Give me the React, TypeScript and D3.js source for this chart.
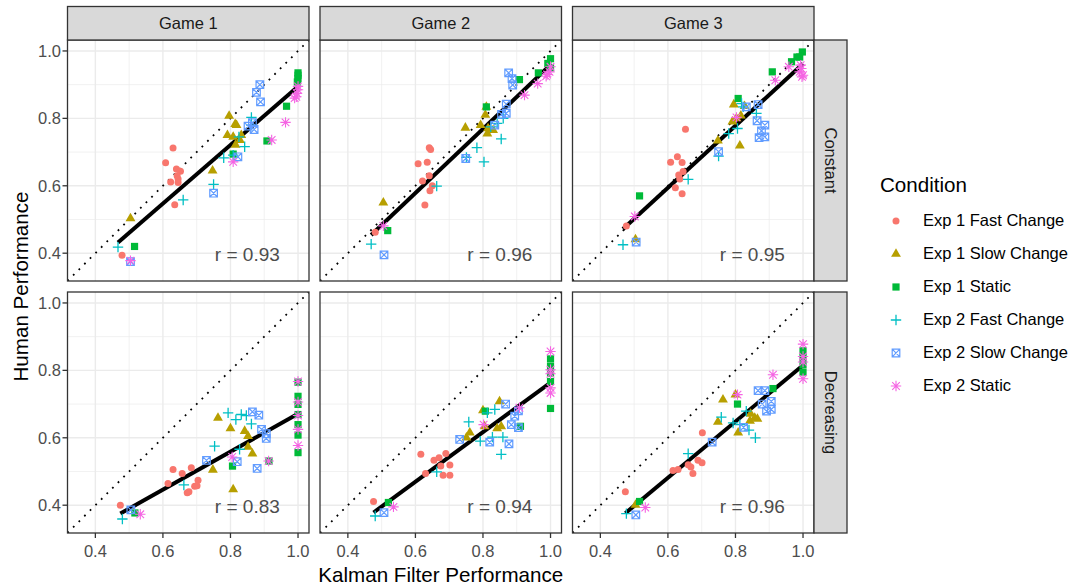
import React, { useEffect, useRef } from 'react';
import * as d3 from 'd3';

const conditions = ['Exp 1 Fast Change', 'Exp 1 Slow Change', 'Exp 1 Static', 'Exp 2 Fast Change', 'Exp 2 Slow Change', 'Exp 2 Static'];
const colors = ['#F8766D', '#B79F00', '#00BA38', '#00BFC4', '#619CFF', '#F564E3'];
const games = ['Game 1', 'Game 2', 'Game 3'];
const trends = ['Constant', 'Decreasing'];
const rValues = [[0.93, 0.96, 0.95], [0.83, 0.94, 0.96]];
const majorTicks = [0.4, 0.6, 0.8, 1.0];
const minorTicks = [0.5, 0.7, 0.9];

// [condition index, kalman filter performance, human performance]
type Pt = [number, number, number];

const constantGame1: Pt[] = [
  [0, 0.630, 0.712], [0, 0.608, 0.668], [0, 0.640, 0.650], [0, 0.652, 0.643], [0, 0.642, 0.630], [0, 0.623, 0.611], [0, 0.645, 0.610], [0, 0.635, 0.544], [0, 0.479, 0.394], [0, 0.645, 0.620],
  [1, 0.504, 0.503], [1, 0.747, 0.645], [1, 0.796, 0.807], [1, 0.814, 0.783], [1, 0.818, 0.780], [1, 0.791, 0.750], [1, 0.808, 0.745], [1, 0.832, 0.750], [1, 0.815, 0.721], [1, 0.828, 0.735],
  [2, 0.516, 0.420], [2, 1.0, 0.935], [2, 1.0, 0.918], [2, 0.998, 0.908], [2, 0.966, 0.836], [2, 0.908, 0.733], [2, 0.808, 0.694], [2, 1.0, 0.928],
  [3, 0.467, 0.418], [3, 0.660, 0.558], [3, 0.750, 0.604], [3, 0.780, 0.683], [3, 0.808, 0.691], [3, 0.842, 0.716], [3, 0.825, 0.745], [3, 0.862, 0.803], [3, 0.862, 0.780],
  [4, 0.504, 0.375], [4, 0.750, 0.578], [4, 0.822, 0.686], [4, 0.887, 0.900], [4, 0.877, 0.877], [4, 0.889, 0.849], [4, 0.852, 0.777], [4, 0.870, 0.767], [4, 0.865, 0.787],
  [5, 0.504, 0.378], [5, 0.808, 0.671], [5, 0.922, 0.736], [5, 0.963, 0.788], [5, 0.995, 0.864], [5, 0.997, 0.874], [5, 0.990, 0.860], [5, 1.0, 0.885], [5, 1.0, 0.895],
];

const constantGame2: Pt[] = [
  [0, 0.641, 0.713], [0, 0.645, 0.708], [0, 0.608, 0.665], [0, 0.635, 0.670], [0, 0.641, 0.630], [0, 0.621, 0.614], [0, 0.650, 0.600], [0, 0.643, 0.585], [0, 0.628, 0.543], [0, 0.481, 0.462],
  [1, 0.505, 0.550], [1, 0.748, 0.772], [1, 0.810, 0.834], [1, 0.807, 0.810], [1, 0.793, 0.780], [1, 0.815, 0.770], [1, 0.830, 0.765], [1, 0.813, 0.755],
  [2, 0.518, 0.467], [2, 1.0, 0.977], [2, 0.992, 0.963], [2, 0.964, 0.935], [2, 0.908, 0.915], [2, 0.810, 0.834], [2, 1.0, 0.950],
  [3, 0.469, 0.427], [3, 0.663, 0.599], [3, 0.751, 0.684], [3, 0.782, 0.713], [3, 0.803, 0.671], [3, 0.854, 0.739], [3, 0.842, 0.785], [3, 0.823, 0.775], [3, 0.860, 0.800],
  [4, 0.507, 0.395], [4, 0.749, 0.681], [4, 0.835, 0.780], [4, 0.869, 0.842], [4, 0.869, 0.815], [4, 0.876, 0.935], [4, 0.886, 0.918], [4, 0.888, 0.899], [4, 0.855, 0.812],
  [5, 0.505, 0.481], [5, 0.923, 0.869], [5, 0.962, 0.903], [5, 0.987, 0.925], [5, 0.997, 0.938], [5, 1.0, 0.953], [5, 0.990, 0.930],
];

const constantGame3: Pt[] = [
  [0, 0.652, 0.768], [0, 0.628, 0.686], [0, 0.608, 0.670], [0, 0.642, 0.669], [0, 0.645, 0.642], [0, 0.632, 0.632], [0, 0.622, 0.594], [0, 0.642, 0.576], [0, 0.477, 0.481], [0, 0.635, 0.620],
  [1, 0.504, 0.441], [1, 0.748, 0.734], [1, 0.813, 0.719], [1, 0.795, 0.841], [1, 0.827, 0.836], [1, 0.791, 0.790], [1, 0.816, 0.808], [1, 0.803, 0.800],
  [2, 0.516, 0.570], [2, 0.808, 0.859], [2, 0.909, 0.938], [2, 0.966, 0.968], [2, 0.982, 0.982], [2, 0.998, 0.997], [2, 0.990, 0.982],
  [3, 0.467, 0.425], [3, 0.660, 0.619], [3, 0.750, 0.688], [3, 0.780, 0.755], [3, 0.806, 0.770], [3, 0.862, 0.815], [3, 0.818, 0.844], [3, 0.823, 0.834],
  [4, 0.506, 0.433], [4, 0.750, 0.701], [4, 0.832, 0.834], [4, 0.867, 0.841], [4, 0.864, 0.793], [4, 0.887, 0.780], [4, 0.877, 0.763], [4, 0.870, 0.743], [4, 0.887, 0.745],
  [5, 0.502, 0.509], [5, 0.803, 0.803], [5, 0.918, 0.913], [5, 0.958, 0.953], [5, 0.990, 0.938], [5, 0.995, 0.948], [5, 1.0, 0.928], [5, 0.997, 0.923], [5, 0.993, 0.958],
];

const decreasingGame1: Pt[] = [
  [0, 0.474, 0.400], [0, 0.630, 0.506], [0, 0.657, 0.494], [0, 0.684, 0.511], [0, 0.615, 0.464], [0, 0.704, 0.474], [0, 0.694, 0.456], [0, 0.672, 0.437], [0, 0.701, 0.458], [0, 0.677, 0.440],
  [1, 0.763, 0.659], [1, 0.800, 0.628], [1, 0.748, 0.505], [1, 0.808, 0.447], [1, 0.842, 0.620], [1, 0.852, 0.605], [1, 0.852, 0.573], [1, 0.865, 0.553],
  [2, 0.517, 0.377], [2, 0.806, 0.516], [2, 0.914, 0.531], [2, 1.0, 0.765], [2, 1.0, 0.723], [2, 1.0, 0.699], [2, 1.0, 0.669], [2, 1.0, 0.639], [2, 1.0, 0.608], [2, 1.0, 0.556],
  [3, 0.480, 0.359], [3, 0.662, 0.460], [3, 0.753, 0.575], [3, 0.793, 0.674], [3, 0.816, 0.654], [3, 0.832, 0.669], [3, 0.847, 0.666], [3, 0.862, 0.641], [3, 0.827, 0.566],
  [4, 0.505, 0.386], [4, 0.729, 0.533], [4, 0.820, 0.529], [4, 0.879, 0.509], [4, 0.865, 0.677], [4, 0.884, 0.667], [4, 0.892, 0.625], [4, 0.906, 0.598], [4, 0.906, 0.612],
  [5, 0.533, 0.373], [5, 0.805, 0.543], [5, 0.913, 0.531], [5, 1.0, 0.767], [5, 1.0, 0.706], [5, 1.0, 0.666], [5, 1.0, 0.625], [5, 1.0, 0.577],
];

const decreasingGame2: Pt[] = [
  [0, 0.476, 0.411], [0, 0.616, 0.551], [0, 0.655, 0.533], [0, 0.670, 0.541], [0, 0.690, 0.553], [0, 0.702, 0.519], [0, 0.675, 0.516], [0, 0.630, 0.494], [0, 0.682, 0.489], [0, 0.702, 0.489],
  [1, 0.761, 0.615], [1, 0.800, 0.681], [1, 0.849, 0.708], [1, 0.805, 0.634], [1, 0.842, 0.628], [1, 0.854, 0.634], [1, 0.751, 0.600],
  [2, 0.520, 0.408], [2, 0.807, 0.679], [2, 0.911, 0.634], [2, 1.0, 0.834], [2, 1.0, 0.792], [2, 1.0, 0.767], [2, 1.0, 0.687], [2, 1.0, 0.812],
  [3, 0.481, 0.368], [3, 0.663, 0.499], [3, 0.758, 0.647], [3, 0.792, 0.590], [3, 0.813, 0.674], [3, 0.835, 0.684], [3, 0.828, 0.602], [3, 0.859, 0.602], [3, 0.854, 0.551],
  [4, 0.507, 0.378], [4, 0.731, 0.595], [4, 0.820, 0.587], [4, 0.877, 0.582], [4, 0.867, 0.700], [4, 0.894, 0.664], [4, 0.884, 0.639], [4, 0.905, 0.630], [4, 0.905, 0.680],
  [5, 0.535, 0.395], [5, 0.802, 0.639], [5, 0.908, 0.689], [5, 1.0, 0.856], [5, 1.0, 0.802], [5, 1.0, 0.790], [5, 1.0, 0.748], [5, 1.0, 0.733],
];

const decreasingGame3: Pt[] = [
  [0, 0.474, 0.440], [0, 0.702, 0.615], [0, 0.615, 0.503], [0, 0.630, 0.506], [0, 0.668, 0.513], [0, 0.689, 0.533], [0, 0.701, 0.526], [0, 0.674, 0.494], [0, 0.660, 0.520],
  [1, 0.504, 0.401], [1, 0.763, 0.713], [1, 0.800, 0.728], [1, 0.748, 0.647], [1, 0.808, 0.615], [1, 0.845, 0.671], [1, 0.857, 0.659], [1, 0.865, 0.656], [1, 0.843, 0.650],
  [2, 0.516, 0.411], [2, 0.806, 0.700], [2, 0.911, 0.746], [2, 1.0, 0.858], [2, 1.0, 0.838], [2, 1.0, 0.817], [2, 1.0, 0.795],
  [3, 0.477, 0.375], [3, 0.660, 0.553], [3, 0.758, 0.661], [3, 0.793, 0.644], [3, 0.832, 0.679], [3, 0.813, 0.639], [3, 0.840, 0.623], [3, 0.859, 0.600],
  [4, 0.505, 0.371], [4, 0.731, 0.587], [4, 0.824, 0.631], [4, 0.867, 0.740], [4, 0.887, 0.740], [4, 0.879, 0.700], [4, 0.906, 0.708], [4, 0.892, 0.679], [4, 0.906, 0.684],
  [5, 0.533, 0.393], [5, 0.806, 0.728], [5, 0.911, 0.787], [5, 1.0, 0.878], [5, 1.0, 0.841], [5, 1.0, 0.825], [5, 1.0, 0.775],
];

const panelData = [
  [constantGame1, constantGame2, constantGame3],
  [decreasingGame1, decreasingGame2, decreasingGame3],
];

const FONT = '"Liberation Sans", Arial, Helvetica, sans-serif';

type G = d3.Selection<SVGGElement, unknown, null, undefined>;

function drawPoint(g: G, cond: number, cx: number, cy: number) {
  const c = colors[cond];
  if (cond === 0) {
    g.append('circle').attr('cx', cx).attr('cy', cy).attr('r', 3.5).attr('fill', c);
  } else if (cond === 1) {
    g.append('path').attr('d', d3.symbol(d3.symbolTriangle, 42)()!)
      .attr('transform', `translate(${cx},${cy})`).attr('fill', c);
  } else if (cond === 2) {
    g.append('rect').attr('x', cx - 3.6).attr('y', cy - 3.6).attr('width', 7.2).attr('height', 7.2).attr('fill', c);
  } else if (cond === 3) {
    g.append('path').attr('d', `M${cx - 5.2},${cy}H${cx + 5.2}M${cx},${cy - 5.2}V${cy + 5.2}`)
      .attr('stroke', c).attr('stroke-width', 1.3).attr('fill', 'none');
  } else if (cond === 4) {
    const s = 3.8;
    g.append('path')
      .attr('d', `M${cx - s},${cy - s}H${cx + s}V${cy + s}H${cx - s}ZM${cx - s},${cy - s}L${cx + s},${cy + s}M${cx - s},${cy + s}L${cx + s},${cy - s}`)
      .attr('stroke', c).attr('stroke-width', 1.2).attr('fill', 'none');
  } else {
    const a = 5.2, b = 3.8;
    g.append('path')
      .attr('d', `M${cx - a},${cy}H${cx + a}M${cx},${cy - a}V${cy + a}M${cx - b},${cy - b}L${cx + b},${cy + b}M${cx - b},${cy + b}L${cx + b},${cy - b}`)
      .attr('stroke', c).attr('stroke-width', 1.1).attr('fill', 'none');
  }
}

export default function App() {
  const svgRef = useRef<SVGSVGElement>(null);

  useEffect(() => {
    if (!svgRef.current) return;
    const svg = d3.select(svgRef.current);
    svg.selectAll('*').remove();

    const panelLeft = [67.5, 320, 572.5];
    const panelTop = [40, 292];
    const pw = 241.5, ph = 241;
    const stripH = 33.5, stripW = 33;

    const x = d3.scaleLinear().domain([0.3175, 1.0325]).range([0, pw]);
    const y = d3.scaleLinear().domain([0.3175, 1.0325]).range([ph, 0]);

    svg.append('defs').append('clipPath').attr('id', 'panel-clip')
      .append('rect').attr('width', pw).attr('height', ph);

    panelData.forEach((row, ri) => {
      row.forEach((pts, ci) => {
        const g = svg.append('g').attr('transform', `translate(${panelLeft[ci]},${panelTop[ri]})`);
        g.append('rect').attr('width', pw).attr('height', ph).attr('fill', 'white');

        // grid
        minorTicks.forEach(t => {
          g.append('line').attr('x1', x(t)).attr('x2', x(t)).attr('y1', 0).attr('y2', ph)
            .attr('stroke', '#EBEBEB').attr('stroke-width', 0.7);
          g.append('line').attr('y1', y(t)).attr('y2', y(t)).attr('x1', 0).attr('x2', pw)
            .attr('stroke', '#EBEBEB').attr('stroke-width', 0.7);
        });
        majorTicks.forEach(t => {
          g.append('line').attr('x1', x(t)).attr('x2', x(t)).attr('y1', 0).attr('y2', ph)
            .attr('stroke', '#EBEBEB').attr('stroke-width', 1.4);
          g.append('line').attr('y1', y(t)).attr('y2', y(t)).attr('x1', 0).attr('x2', pw)
            .attr('stroke', '#EBEBEB').attr('stroke-width', 1.4);
        });

        const inner = g.append('g').attr('clip-path', 'url(#panel-clip)');
        // identity line
        const dom = x.domain();
        inner.append('line')
          .attr('x1', x(dom[0])).attr('y1', y(dom[0])).attr('x2', x(dom[1])).attr('y2', y(dom[1]))
          .attr('stroke', 'black').attr('stroke-width', 1.8).attr('stroke-dasharray', '1.8 6.1');

        pts.forEach(p => drawPoint(g, p[0], x(p[1]), y(p[2])));

        // least squares fit over all conditions
        const mx = d3.mean(pts, p => p[1])!;
        const my = d3.mean(pts, p => p[2])!;
        const slope = d3.sum(pts, p => (p[1] - mx) * (p[2] - my)) / d3.sum(pts, p => (p[1] - mx) ** 2);
        const icpt = my - slope * mx;
        const [x0, x1] = d3.extent(pts, p => p[1]) as [number, number];
        inner.append('line')
          .attr('x1', x(x0)).attr('y1', y(icpt + slope * x0))
          .attr('x2', x(x1)).attr('y2', y(icpt + slope * x1))
          .attr('stroke', 'black').attr('stroke-width', 4);

        g.append('text').attr('x', x(0.85)).attr('y', y(0.4) + 8)
          .attr('text-anchor', 'middle').attr('font-family', FONT).attr('font-size', 19)
          .attr('fill', '#4D4D4D').text(`r = ${d3.format('.2f')(rValues[ri][ci])}`);

        g.append('rect').attr('width', pw).attr('height', ph).attr('fill', 'none')
          .attr('stroke', '#333333').attr('stroke-width', 1.3);

        // top strips
        if (ri === 0) {
          svg.append('rect').attr('x', panelLeft[ci]).attr('y', panelTop[0] - stripH)
            .attr('width', pw).attr('height', stripH)
            .attr('fill', '#D9D9D9').attr('stroke', '#333333').attr('stroke-width', 1.3);
          svg.append('text').attr('x', panelLeft[ci] + pw / 2).attr('y', panelTop[0] - stripH / 2)
            .attr('dy', '0.36em').attr('text-anchor', 'middle').attr('font-family', FONT)
            .attr('font-size', 16.5).attr('fill', '#1A1A1A').text(games[ci]);
        }
        // x axis
        if (ri === 1) {
          majorTicks.forEach(t => {
            svg.append('line').attr('x1', panelLeft[ci] + x(t)).attr('x2', panelLeft[ci] + x(t))
              .attr('y1', panelTop[1] + ph).attr('y2', panelTop[1] + ph + 5)
              .attr('stroke', '#333333').attr('stroke-width', 1.3);
            svg.append('text').attr('x', panelLeft[ci] + x(t)).attr('y', panelTop[1] + ph + 24)
              .attr('text-anchor', 'middle').attr('font-family', FONT).attr('font-size', 16.5)
              .attr('fill', '#4D4D4D').text(d3.format('.1f')(t));
          });
        }
        // y axis
        if (ci === 0) {
          majorTicks.forEach(t => {
            svg.append('line').attr('x1', panelLeft[0] - 5).attr('x2', panelLeft[0])
              .attr('y1', panelTop[ri] + y(t)).attr('y2', panelTop[ri] + y(t))
              .attr('stroke', '#333333').attr('stroke-width', 1.3);
            svg.append('text').attr('x', panelLeft[0] - 6.5).attr('y', panelTop[ri] + y(t))
              .attr('dy', '0.36em').attr('text-anchor', 'end').attr('font-family', FONT).attr('font-size', 16.5)
              .attr('fill', '#4D4D4D').text(d3.format('.1f')(t));
          });
        }
      });

      // right strip
      const sx = panelLeft[2] + pw;
      svg.append('rect').attr('x', sx).attr('y', panelTop[ri]).attr('width', stripW).attr('height', ph)
        .attr('fill', '#D9D9D9').attr('stroke', '#333333').attr('stroke-width', 1.3);
      svg.append('text')
        .attr('transform', `translate(${sx + stripW / 2},${panelTop[ri] + ph / 2}) rotate(90)`)
        .attr('dy', '0.36em').attr('text-anchor', 'middle').attr('font-family', FONT)
        .attr('font-size', 16.5).attr('fill', '#1A1A1A').text(trends[ri]);
    });

    // axis titles
    svg.append('text').attr('x', (panelLeft[0] + panelLeft[2] + pw) / 2).attr('y', 581.5)
      .attr('text-anchor', 'middle').attr('font-family', FONT).attr('font-size', 20.6)
      .attr('fill', 'black').text('Kalman Filter Performance');
    svg.append('text')
      .attr('transform', `translate(28,${(panelTop[0] + panelTop[1] + ph) / 2}) rotate(-90)`)
      .attr('text-anchor', 'middle').attr('font-family', FONT).attr('font-size', 20.6)
      .attr('fill', 'black').text('Human Performance');

    // legend
    const leg = svg.append('g');
    leg.append('text').attr('x', 880).attr('y', 192).attr('font-family', FONT).attr('font-size', 20.6)
      .attr('fill', 'black').text('Condition');
    conditions.forEach((name, i) => {
      const cy = 221 + i * 33;
      drawPoint(leg, i, 896, cy);
      leg.append('text').attr('x', 923).attr('y', cy + 5).attr('font-family', FONT).attr('font-size', 16.5)
        .attr('fill', 'black').text(name);
    });
  }, []);

  return (
    <svg
      ref={svgRef}
      width={1077}
      height={588}
      style={{ position: 'absolute', left: 0, top: 0, background: 'white' }}
    />
  );
}
